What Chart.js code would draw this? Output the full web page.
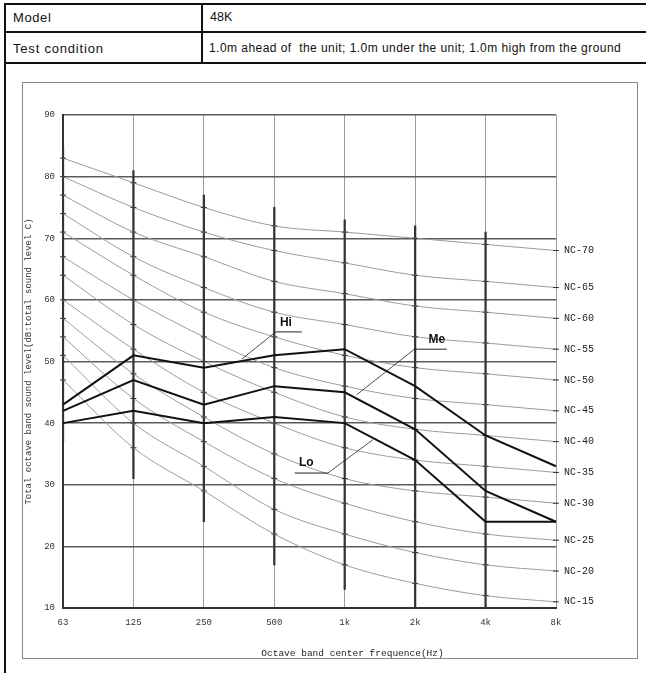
<!DOCTYPE html>
<html>
<head>
<meta charset="utf-8">
<script src="https://cdn.jsdelivr.net/npm/chart.js@4/dist/chart.umd.min.js"></script>
<style>
  body { margin:0; width:646px; height:673px; overflow:hidden; position:relative; background:#fff;
         font-family:"Liberation Sans", Arial, sans-serif; color:#111; }
  .frame { position:absolute; left:4px; top:3px; width:720px; height:720px; border:2px solid #111; }
  .hline { position:absolute; left:4px; width:720px; height:2px; background:#111; }
  .vline { position:absolute; left:201px; top:3px; width:2px; height:61px; background:#111; }
  .cell { position:absolute; white-space:nowrap; line-height:1; }
  .box { position:absolute; left:22px; top:82px; width:614px; height:575px; border:1.5px solid #8a8a8a; }
  #noise { position:absolute; left:0; top:0; }
</style>
</head>
<body>
<div class="frame"></div>
<div class="hline" style="top:31px"></div>
<div class="hline" style="top:62px"></div>
<div class="vline"></div>
<div class="cell" style="left:13px; top:11px; font-size:13px; letter-spacing:0.6px">Model</div>
<div class="cell" style="left:210px; top:11px; font-size:12.5px">48K</div>
<div class="cell" style="left:13px; top:42px; font-size:13px; letter-spacing:0.8px">Test condition</div>
<div class="cell" style="left:209px; top:42px; font-size:12px; letter-spacing:0.45px">1.0m ahead of&nbsp; the unit; 1.0m under the unit; 1.0m high from the ground</div>
<div class="box"></div>
<canvas id="noise" width="646" height="673"></canvas>
<script>
// octave bands
let freqLabels = ["63", "125", "250", "500", "1k", "2k", "4k", "8k"];
let yTicks = [10, 20, 30, 40, 50, 60, 70, 80, 90];

// measured levels per fan speed
let hiLevel = [43, 51, 49, 51, 52, 46, 38, 33];
let meLevel = [42, 47, 43, 46, 45, 39, 29, 24];
let loLevel = [40, 42, 40, 41, 40, 34, 24, 24];

// NC reference curves
let ncNames = ["NC-15", "NC-20", "NC-25", "NC-30", "NC-35", "NC-40", "NC-45", "NC-50", "NC-55", "NC-60", "NC-65", "NC-70"];
let nc15 = [47, 36, 29, 22, 17, 14, 12, 11];
let nc20 = [51, 40, 33, 26, 22, 19, 17, 16];
let nc25 = [54, 44, 37, 31, 27, 24, 22, 21];
let nc30 = [57, 48, 41, 35, 31, 29, 28, 27];
let nc35 = [60, 52, 45, 40, 36, 34, 33, 32];
let nc40 = [64, 56, 50, 45, 41, 39, 38, 37];
let nc45 = [67, 60, 54, 49, 46, 44, 43, 42];
let nc50 = [71, 64, 58, 54, 51, 49, 48, 47];
let nc55 = [74, 67, 62, 58, 56, 54, 53, 52];
let nc60 = [77, 71, 67, 63, 61, 59, 58, 57];
let nc65 = [80, 75, 71, 68, 66, 64, 63, 62];
let nc70 = [83, 79, 75, 72, 71, 70, 69, 68];
let ncCurves = [nc15, nc20, nc25, nc30, nc35, nc40, nc45, nc50, nc55, nc60, nc65, nc70];

// dark part of each band line
let bandTop = [85, 81, 77, 75, 73, 72, 71, null];
let bandBottom = [37, 31, 24, 17, 13, 10, 10, null];

const monoFont = "'Liberation Mono', 'DejaVu Sans Mono', monospace";

let datasets = [];

// Hi / Me / Lo lines
[hiLevel, meLevel, loLevel].forEach(arr => {
  datasets.push({
    type: "line",
    data: arr,
    borderColor: "#111",
    borderWidth: 2,
    pointRadius: 0,
    tension: 0
  });
});

// NC curves
ncCurves.forEach((arr, i) => {
  datasets.push({
    type: "line",
    label: ncNames[i],
    data: arr,
    borderColor: "#9c9c9c",
    borderWidth: 1,
    cubicInterpolationMode: "monotone",
    pointStyle: "line",
    pointRadius: 3,
    pointBorderColor: "#333",
    pointBorderWidth: 1
  });
});

// band segments
datasets.push({
  type: "bar",
  data: bandTop.map((t, i) => t === null ? null : [bandBottom[i], t]),
  backgroundColor: "#333",
  barThickness: 1.6
});

// label the curves at the right and the Hi/Me/Lo tags
const curveLabels = {
  id: "curveLabels",
  afterDatasetsDraw(chart, args, opts) {
    let ctx = chart.ctx;
    let x = chart.scales.x, y = chart.scales.y;
    ctx.save();
    // NC names at the 8k end
    ctx.font = "10px " + monoFont;
    ctx.fillStyle = "#222";
    ctx.textBaseline = "middle";
    ncCurves.forEach((arr, i) => {
      let last = arr.length - 1;
      ctx.fillText(ncNames[i], x.getPixelForValue(last) + 8, y.getPixelForValue(arr[last]));
    });
    // Hi / Me / Lo tags
    opts.tags.forEach(t => {
      ctx.strokeStyle = "#222";
      ctx.lineWidth = 1;
      ctx.beginPath();
      ctx.moveTo(x.getPixelForValue(t.under[0]), y.getPixelForValue(t.under[2]));
      ctx.lineTo(x.getPixelForValue(t.under[1]), y.getPixelForValue(t.under[2]));
      ctx.stroke();
      ctx.lineWidth = 0.8;
      ctx.beginPath();
      ctx.moveTo(x.getPixelForValue(t.lead[0]), y.getPixelForValue(t.lead[1]));
      ctx.lineTo(x.getPixelForValue(t.lead[2]), y.getPixelForValue(t.lead[3]));
      ctx.stroke();
      ctx.font = t.weight + " 12px 'Liberation Sans', Arial, sans-serif";
      ctx.fillStyle = "#111";
      ctx.textBaseline = "middle";
      ctx.fillText(t.text, x.getPixelForValue(t.at[0]), y.getPixelForValue(t.at[1]));
    });
    // x axis title
    ctx.font = "9.5px " + monoFont;
    ctx.fillStyle = "#222";
    ctx.textAlign = "center";
    ctx.fillText("Octave band center frequence(Hz)", (chart.chartArea.left + chart.chartArea.right) / 2 + 43, 653);
    ctx.restore();
  }
};

chart = new Chart(document.getElementById("noise"), {
  type: "line",
  data: { labels: freqLabels, datasets },
  options: {
    responsive: false,
    animation: false,
    events: [],
    layout: { padding: { top: 115, right: 90, bottom: 0, left: 0 } },
    plugins: {
      legend: { display: false },
      tooltip: { enabled: false },
      curveLabels: {
        tags: [
          { text: "Hi", weight: "bold", at: [3.08, 56.3], under: [3.02, 3.39, 54.8], lead: [3.02, 54.8, 2.54, 50.4] },
          { text: "Me", weight: "600", at: [5.19, 53.5], under: [4.99, 5.45, 52.0], lead: [4.99, 52.0, 4.17, 44.6] },
          { text: "Lo", weight: "600", at: [3.35, 33.5], under: [3.29, 3.76, 31.9], lead: [3.76, 31.9, 4.40, 37.3] }
        ]
      }
    },
    scales: {
      x: {
        offset: false,
        grid: { offset: false, color: "#9a9a9a", lineWidth: 1, drawTicks: false },
        border: { color: "#333", width: 2 },
        ticks: { color: "#333", padding: 9, maxRotation: 0, autoSkip: false, font: { family: monoFont, size: 9 } },
        afterFit(scale) { scale.height = 65; }
      },
      y: {
        min: 10,
        max: 90,
        afterBuildTicks(scale) { scale.ticks = yTicks.map(v => ({ value: v })); },
        grid: { color: "#5a5a5a", lineWidth: 1.5, drawTicks: false },
        border: { color: "#333", width: 2 },
        ticks: { color: "#333", padding: 8, font: { family: monoFont, size: 9 } },
        title: {
          display: true,
          text: "Total octave band sound level(dB:total sound level C)",
          color: "#333",
          padding: { top: 23, bottom: 0 },
          font: { family: monoFont, size: 9 }
        },
        afterFit(scale) { scale.width = 63; }
      }
    }
  },
  plugins: [curveLabels]
});
</script>
</body>
</html>
